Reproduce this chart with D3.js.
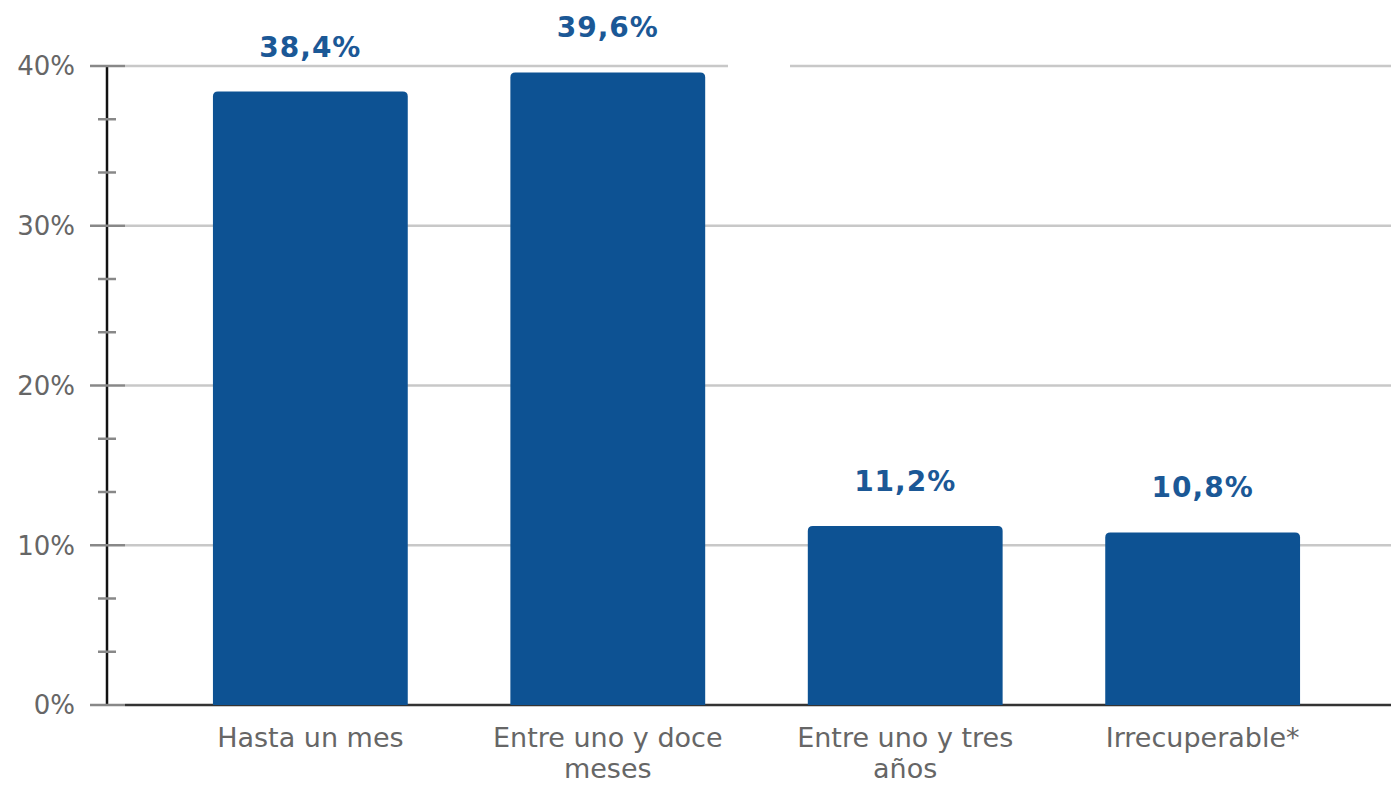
<!DOCTYPE html>
<html>
<head>
<meta charset="utf-8">
<script src="https://cdn.jsdelivr.net/npm/d3@7"></script>
<style>
  body { margin: 0; background: #fff; }
  svg { display: block; font-family: Verdana, "DejaVu Sans", sans-serif; }
</style>
</head>
<body>
<div id="chart"></div>
<script>
// categories (lines of each label) and values
const categories = ["Hasta un mes", "Entre uno y doce meses", "Entre uno y tres años", "Irrecuperable*"];
const categoryLines = [["Hasta un mes"], ["Entre uno y doce", "meses"], ["Entre uno y tres", "años"], ["Irrecuperable*"]];
const values = [38.4, 39.6, 11.2, 10.8];
const valueLabels = ["38,4%", "39,6%", "11,2%", "10,8%"];
const yTicks = [0, 10, 20, 30, 40];

const width = 1391, height = 785;
const svg = d3.select("#chart").append("svg")
  .attr("width", width)
  .attr("height", height);

const y = d3.scaleLinear().domain([0, 40]).range([705, 66]);
const x = d3.scaleBand().domain(categories).range([160, 1353])
  .paddingInner(0.345).paddingOuter(0.178);

const axisX = 107;

// gridlines
svg.append("g").selectAll("line")
  .data(yTicks.filter(d => d > 0))
  .enter().append("line")
  .attr("x1", 125).attr("x2", width)
  .attr("y1", d => y(d)).attr("y2", d => y(d))
  .attr("stroke", "#c8c8c8").attr("stroke-width", 2.5);

// gap in top gridline
svg.append("rect")
  .attr("x", 728).attr("width", 62)
  .attr("y", y(40) - 3).attr("height", 6)
  .attr("fill", "#fff");

// baseline
svg.append("line")
  .attr("x1", 125).attr("x2", width)
  .attr("y1", y(0)).attr("y2", y(0))
  .attr("stroke", "#333").attr("stroke-width", 2.5);

// bars with rounded top corners
const r = 5;
svg.append("g").selectAll("path")
  .data(values)
  .enter().append("path")
  .attr("fill", "#0d5293")
  .attr("d", (d, i) => {
    const x0 = x(categories[i]), w = x.bandwidth();
    const yt = y(d), yb = y(0);
    return `M${x0},${yb}V${yt + r}Q${x0},${yt} ${x0 + r},${yt}H${x0 + w - r}Q${x0 + w},${yt} ${x0 + w},${yt + r}V${yb}Z`;
  });

// y axis line
svg.append("line")
  .attr("x1", axisX).attr("x2", axisX)
  .attr("y1", y(40)).attr("y2", y(0))
  .attr("stroke", "#111").attr("stroke-width", 2.5);

// major ticks
svg.append("g").selectAll("line")
  .data(yTicks)
  .enter().append("line")
  .attr("x1", 90).attr("x2", 125)
  .attr("y1", d => y(d)).attr("y2", d => y(d))
  .attr("stroke", "#888").attr("stroke-width", 2.5);

// minor ticks
const minor = d3.range(0, 40.01, 10 / 3).filter(d => Math.abs(d / 10 - Math.round(d / 10)) > 0.01);
svg.append("g").selectAll("line")
  .data(minor)
  .enter().append("line")
  .attr("x1", 98).attr("x2", 116)
  .attr("y1", d => y(d)).attr("y2", d => y(d))
  .attr("stroke", "#888").attr("stroke-width", 2.5);

// y tick labels
svg.append("g").selectAll("text")
  .data(yTicks)
  .enter().append("text")
  .attr("x", 75).attr("y", d => y(d))
  .attr("dy", "0.36em")
  .attr("text-anchor", "end")
  .attr("fill", "#666")
  .attr("font-size", 26)
  .text(d => d + "%");

// value labels
svg.append("g").selectAll("text")
  .data(values)
  .enter().append("text")
  .attr("x", (d, i) => x(categories[i]) + x.bandwidth() / 2)
  .attr("y", d => y(d) - 35)
  .attr("text-anchor", "middle")
  .attr("fill", "#1b5896")
  .attr("font-size", 28)
  .attr("font-weight", "bold")
  .attr("letter-spacing", 1)
  .text((d, i) => valueLabels[i]);

// category labels
const cat = svg.append("g").selectAll("text")
  .data(categories)
  .enter().append("text")
  .attr("x", d => x(d) + x.bandwidth() / 2)
  .attr("y", 747)
  .attr("text-anchor", "middle")
  .attr("fill", "#666")
  .attr("font-size", 27);
cat.each(function(d, i) {
  const t = d3.select(this);
  categoryLines[i].forEach((line, k) => {
    t.append("tspan")
      .attr("x", x(d) + x.bandwidth() / 2)
      .attr("dy", k === 0 ? 0 : 31)
      .text(line);
  });
});
</script>
</body>
</html>
